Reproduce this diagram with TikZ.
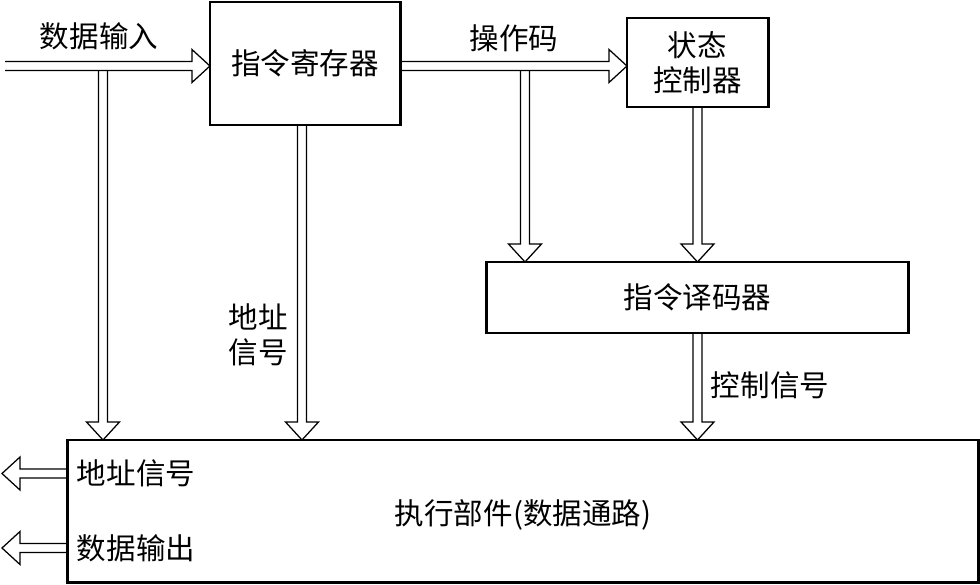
\documentclass[tikz,border=0pt]{standalone}
\usepackage{fontspec}
\newfontfamily\cjk{Noto Sans CJK SC}
\usetikzlibrary{calc}
\tikzset{
 box/.style={draw,line width=2.1pt,outer sep=0pt,align=center,font=\cjk\fontsize{21}{25}\selectfont},
 lbl/.style={font=\cjk\fontsize{21}{25}\selectfont,align=left},
 hollow/.style={draw,line width=0.9pt,line join=miter,to path={
  ($(\tikztostart)!0.1125cm!90:(\tikztotarget)$)--($(\tikztotarget)!0.45cm!(\tikztostart)!0.1125cm!-90:(\tikztostart)$)--($(\tikztotarget)!0.45cm!(\tikztostart)!0.4125cm!-90:(\tikztostart)$)--(\tikztotarget)--($(\tikztotarget)!0.45cm!(\tikztostart)!0.4125cm!90:(\tikztostart)$)--($(\tikztotarget)!0.45cm!(\tikztostart)!0.1125cm!90:(\tikztostart)$)--($(\tikztostart)!0.1125cm!-90:(\tikztotarget)$)}}
}
\begin{document}
\begin{tikzpicture}[x=0.025cm,y=-0.025cm]
\useasboundingbox (0,0) rectangle (980,585);
\node[box,minimum width=4.75cm,minimum height=3.075cm] (reg) at (305,63.5) {指令寄存器};
\node[box,minimum width=3.525cm,minimum height=2.225cm] (ctl) at (697.5,62.5) {状态\\控制器};
\node[box,minimum width=10.525cm,minimum height=1.775cm] (dec) at (697.5,297.5) {指令译码器};
\node[box,minimum width=22.75cm,minimum height=3.55cm] (exe) at (523,511) {};
\coordinate (in) at (5,66);\coordinate (b1) at (103,70.5);\coordinate (b2) at (525,70.5);\coordinate (d1) at (302,0);
\coordinate (o1) at (2,473.5);\coordinate (o2) at (2,548);
\draw[hollow] (in) to (in -| reg.west);\draw[hollow] (in -| reg.east) to (in -| ctl.west);
\draw[hollow] (b1) to (b1 |- exe.north);\draw[hollow] (b2) to (b2 |- dec.north);
\draw[hollow] (d1 |- reg.south) to (d1 |- exe.north);\draw[hollow] (ctl.south) to (dec.north);
\draw[hollow] (dec.south) to (dec.south |- exe.north);
\draw[hollow] (o1 -| exe.west) to (o1);\draw[hollow] (o2 -| exe.west) to (o2);
\node[lbl] (t1) at (99,36) {数据输入};\node[lbl] (t2) at (514,38) {操作码};
\node[lbl] (t3) at (258,335) {地址\\信号};\node[lbl] (t4) at (770,385) {控制信号};
\node[lbl,anchor=west] (t5) at (72,473) {地址信号};\node[lbl,anchor=west] (t6) at (72,548) {数据输出};
\node[lbl] (t7) at (523,515) {执行部件(数据通路)};
\end{tikzpicture}
\end{document}
